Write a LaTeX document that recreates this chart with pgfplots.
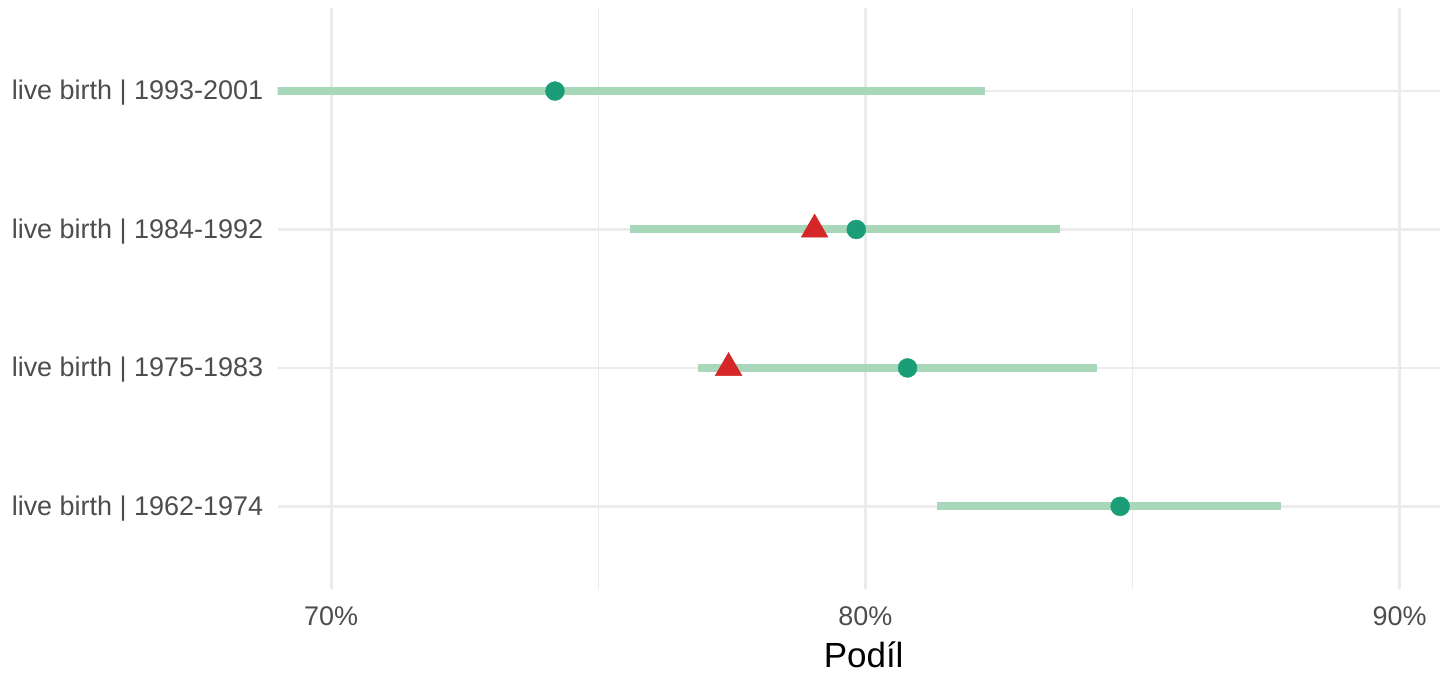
\documentclass[border=0pt]{standalone}
\usepackage{pgfplots}
\pgfplotsset{compat=1.18}
\usepackage{fontspec}
\setmainfont{Liberation Sans}
\definecolor{cicol}{HTML}{A8D8B9}
\definecolor{ptcol}{HTML}{1B9E77}
\definecolor{tricol}{HTML}{D62728}
\definecolor{gridc}{HTML}{EBEBEB}
\definecolor{tickc}{HTML}{4D4D4D}
\begin{document}
\begin{tikzpicture}[x=1pt,y=1pt]
\path (0,0) rectangle (1441,675);
\begin{axis}[
  at={(278pt,85pt)}, anchor=south west,
  scale only axis, width=1163pt, height=582pt,
  xmin=69, xmax=90.75, ymin=0.4, ymax=4.6,
  axis line style={draw=none},
  major tick length=0pt, minor tick length=0pt,
  tick style={draw=none},
  xtick={70,80,90}, xticklabels={70\%,80\%,90\%},
  minor xtick={75,85},
  ytick={1,2,3,4},
  yticklabels={live birth | 1962-1974, live birth | 1975-1983, live birth | 1984-1992, live birth | 1993-2001},
  xmajorgrids, xminorgrids, ymajorgrids,
  major grid style={gridc, line width=2.8pt},
  minor grid style={gridc, line width=1.5pt},
  /pgf/number format/assume math mode=true,
  tick label style={font=\fontsize{27}{30}\selectfont, text=tickc},
  xticklabel style={anchor=north, yshift=-14pt},
  yticklabel style={anchor=east, xshift=-11pt, yshift=-2pt},
  xlabel={Podíl},
  xlabel style={at={(axis description cs:0.5,0)}, anchor=base, yshift=-78pt, xshift=5pt, font=\fontsize{35}{40}\selectfont, text=black},
]
\addplot[cicol, line width=8pt, forget plot] coordinates {(68.5,4) (82.24,4)};
\addplot[cicol, line width=8pt, forget plot] coordinates {(75.59,3) (83.64,3)};
\addplot[cicol, line width=8pt, forget plot] coordinates {(76.86,2) (84.34,2)};
\addplot[cicol, line width=8pt, forget plot] coordinates {(81.35,1) (87.78,1)};
\addplot[only marks, mark=triangle*, mark size=15.5pt, color=tricol, mark options={fill=tricol, draw=tricol}] coordinates {(79.05,3) (77.44,2)};
\addplot[only marks, mark=*, mark size=9.5pt, color=ptcol, mark options={fill=ptcol, draw=ptcol}] coordinates {(74.19,4) (79.83,3) (80.79,2) (84.77,1)};
\end{axis}
\end{tikzpicture}
\end{document}
